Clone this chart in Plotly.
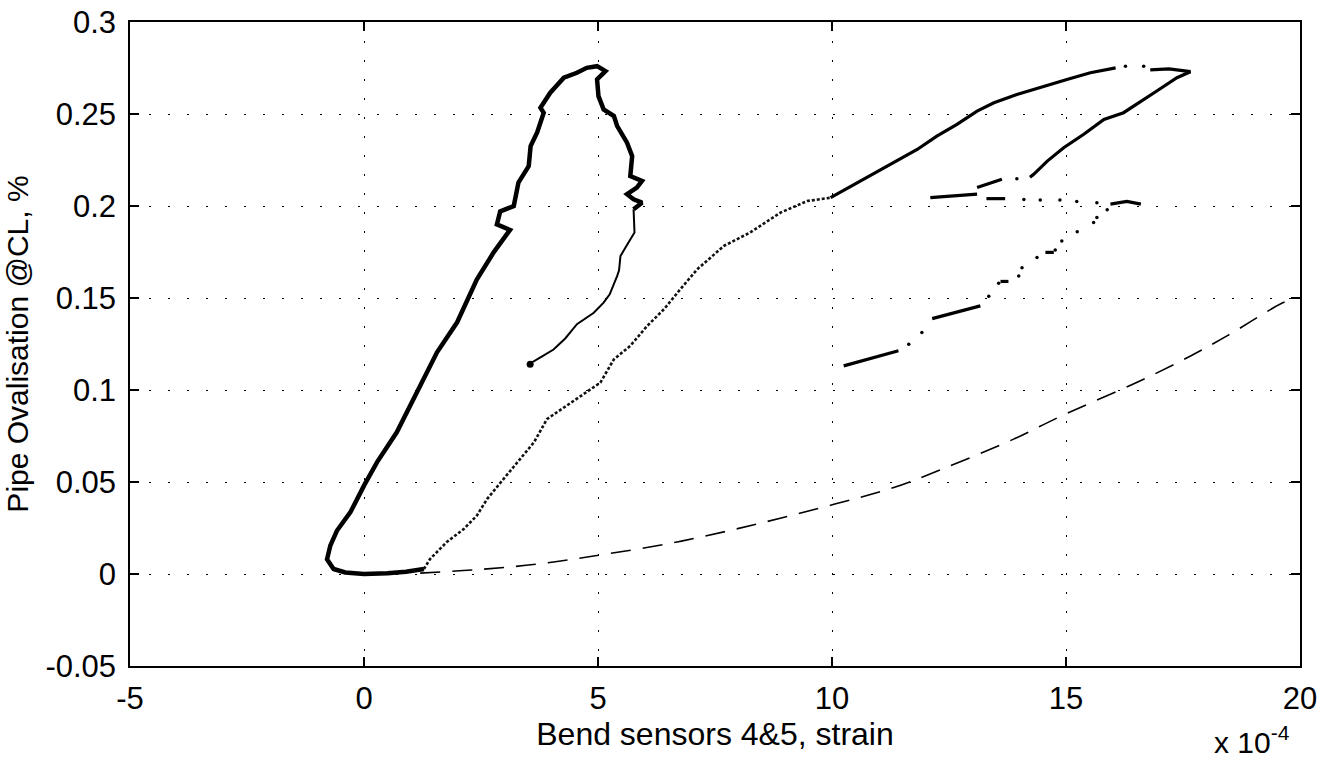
import plotly.graph_objects as go

# ---------------- data (strain in units of 1e-4, ovalisation in %) ----------------
# thick loop: unloading branch going left along zero, up the left side, over the top
bold_x = [1.28, 0.9, 0.5, 0.0, -0.4, -0.65, -0.79, -0.72, -0.58, -0.29, 0.0, 0.28, 0.7,
          1.13, 1.56, 1.99, 2.41, 2.77, 3.12, 2.84, 2.91, 3.2, 3.3, 3.52, 3.56, 3.7, 3.84,
          3.77, 3.98, 4.27, 4.55, 4.76, 4.98, 5.16, 4.98, 5.01, 5.12, 5.34, 5.41, 5.62,
          5.73, 5.69, 5.94, 5.83, 5.62, 5.76, 5.94, 5.76]
bold_y = [0.0027, 0.0012, 0.0004, 0.0, 0.0008, 0.0027, 0.008, 0.0154, 0.0235, 0.0336,
          0.048, 0.0608, 0.077, 0.0988, 0.1205, 0.1368, 0.160, 0.1748, 0.187, 0.19, 0.197,
          0.2, 0.2127, 0.2217, 0.2326, 0.24, 0.2507, 0.2534, 0.2616, 0.2697, 0.2724,
          0.2751, 0.276, 0.2733, 0.2688, 0.2597, 0.2525, 0.2489, 0.2434, 0.2344, 0.2271,
          0.2163, 0.2136, 0.21, 0.2064, 0.2036, 0.2018, 0.1982]

# thin tail of the first loop
thin_x = [5.76, 5.78, 5.6, 5.48, 5.45, 5.41, 5.25, 5.12, 4.91, 4.55, 4.3, 4.05, 3.77, 3.52]
thin_y = [0.1982, 0.1856, 0.178, 0.1728, 0.165, 0.162, 0.152, 0.1475, 0.142, 0.1358,
          0.128, 0.122, 0.1177, 0.114]

# second (reloading) loop: sparse rising part
rise_x = [1.28, 1.41, 1.77, 2.13, 2.41, 2.63, 2.98, 3.34, 3.63, 3.91, 4.27, 4.69, 5.05,
          5.34, 5.69, 6.05, 6.41, 6.76, 7.12, 7.69, 8.25, 8.9, 9.47, 9.97]
rise_y = [0.0027, 0.0081, 0.0174, 0.0244, 0.0317, 0.0407, 0.0516, 0.0624, 0.0715, 0.0842,
          0.0905, 0.0977, 0.104, 0.1167, 0.124, 0.1348, 0.1439, 0.1548, 0.1656, 0.1783,
          0.1856, 0.1964, 0.2027, 0.2045]

# second loop: denser runs, separated by gaps (None)
upper_x = [9.97, 10.68, 11.25, 11.82, 12.24, 12.67, 13.1, 13.46, 13.95, 14.52, 15.02, 15.52,
           16.06, None,
           16.8, 17.2, 17.66, 17.37, 16.94, 16.66, 16.23, 15.81, 15.38, 14.95, 14.6, 14.31,
           14.23, None,
           13.63, 13.1, None,
           13.1, 12.6, 12.1, None,
           13.3, 13.7, None,
           15.95, 16.3, 16.6, None,
           14.56, 14.74, None,
           13.6, 13.77, None,
           13.17, 12.6, 12.14, None,
           11.42, 10.8, 10.25]
upper_y = [0.2045, 0.2145, 0.2226, 0.2307, 0.238, 0.2444, 0.2516, 0.2561, 0.2606, 0.2651,
           0.2688, 0.2724, 0.2751, None,
           0.274, 0.2745, 0.273, 0.2697, 0.2625, 0.258, 0.2507, 0.247, 0.239, 0.2317,
           0.2244, 0.2172, 0.2156, None,
           0.2145, 0.21, None,
           0.2064, 0.2055, 0.2045, None,
           0.204, 0.204, None,
           0.201, 0.2025, 0.201, None,
           0.1748, 0.1748, None,
           0.159, 0.159, None,
           0.1457, 0.142, 0.1388, None,
           0.1213, 0.117, 0.1131]

# isolated sample points of the second loop
dots_x = [16.27, 16.66, 13.95, 14.1, 14.45, 14.87, 15.23, 15.66, 15.88, 15.66, 15.59, 15.24,
          14.91, 14.77, 14.38, 14.06, 13.99, 13.56, 13.35, 11.92, 11.64]
dots_y = [0.276, 0.276, 0.2148, 0.2036, 0.2032, 0.2032, 0.2024, 0.2018, 0.198, 0.1937,
          0.191, 0.186, 0.181, 0.1761, 0.172, 0.1665, 0.162, 0.158, 0.151, 0.1312, 0.1249]

# dashed reference curve
dash_x = [1.2, 2.5, 3.7, 4.94, 6.69, 8.4, 10.06, 11.32, 12.39, 13.88, 14.91, 16.59, 17.66,
          18.44, 19.57, 19.8]
dash_y = [0.0005, 0.0025, 0.0054, 0.0099, 0.0174, 0.0272, 0.038, 0.047, 0.0574, 0.0733,
          0.086, 0.105, 0.1185, 0.1294, 0.1466, 0.149]

x_ticks = [-5, 0, 5, 10, 15, 20]
x_tick_labels = ["-5", "0", "5", "10", "15", "20"]
y_ticks = [-0.05, 0, 0.05, 0.1, 0.15, 0.2, 0.25, 0.3]
y_tick_labels = ["-0.05", "0", "0.05", "0.1", "0.15", "0.2", "0.25", "0.3"]

# ---------------- figure ----------------
FONT = "Liberation Sans, Arial, Helvetica, sans-serif"
fig = go.Figure()

fig.add_trace(go.Scatter(x=dash_x, y=dash_y, mode="lines",
                         line=dict(color="black", width=1.6, dash="20px,12px", shape="spline"),
                         hoverinfo="skip"))
fig.add_trace(go.Scatter(x=rise_x, y=rise_y, mode="lines",
                         line=dict(color="#111111", width=2.6, dash="3px,2px")))
fig.add_trace(go.Scatter(x=upper_x, y=upper_y, mode="lines", line=dict(color="black", width=3.2),
                         connectgaps=False))
fig.add_trace(go.Scatter(x=dots_x, y=dots_y, mode="markers", marker=dict(color="black", size=3.5)))
fig.add_trace(go.Scatter(x=thin_x, y=thin_y, mode="lines", line=dict(color="black", width=2)))
fig.add_trace(go.Scatter(x=bold_x, y=bold_y, mode="lines", line=dict(color="black", width=4.5)))
fig.add_trace(go.Scatter(x=[3.55], y=[0.114], mode="markers", marker=dict(color="black", size=7)))

axis_common = dict(
    showline=True, linecolor="black", linewidth=1.5, mirror="ticks",
    ticks="inside", ticklen=9, tickwidth=1.5, tickcolor="black",
    showgrid=True, gridcolor="black", gridwidth=1, griddash="2px,17px",
    zeroline=False, tickfont=dict(family=FONT, size=31, color="black"),
)

fig.update_xaxes(range=[-5, 20], tickvals=x_ticks, ticktext=x_tick_labels,
                 title=dict(text="Bend sensors 4&5, strain", font=dict(family=FONT, size=32, color="black"),
                            standoff=0),
                 ticklabelstandoff=4, **axis_common)
fig.update_yaxes(range=[-0.05, 0.3], tickvals=y_ticks, ticktext=y_tick_labels,
                 title=dict(text="Pipe Ovalisation @CL, %", font=dict(family=FONT, size=30, color="black"),
                            standoff=8),
                 ticklabelstandoff=6, **axis_common)

fig.add_annotation(text="x 10<sup>-4</sup>", xref="paper", yref="paper", x=0.993, y=-0.148,
                   xanchor="right", yanchor="bottom", showarrow=False,
                   font=dict(family=FONT, size=30, color="black"))

fig.update_layout(
    width=1333, height=761,
    margin=dict(l=130, r=33, t=22, b=95, autoexpand=False),
    plot_bgcolor="white", paper_bgcolor="white",
    showlegend=False,
    font=dict(family=FONT, color="black"),
)

fig.write_html("out.html")
